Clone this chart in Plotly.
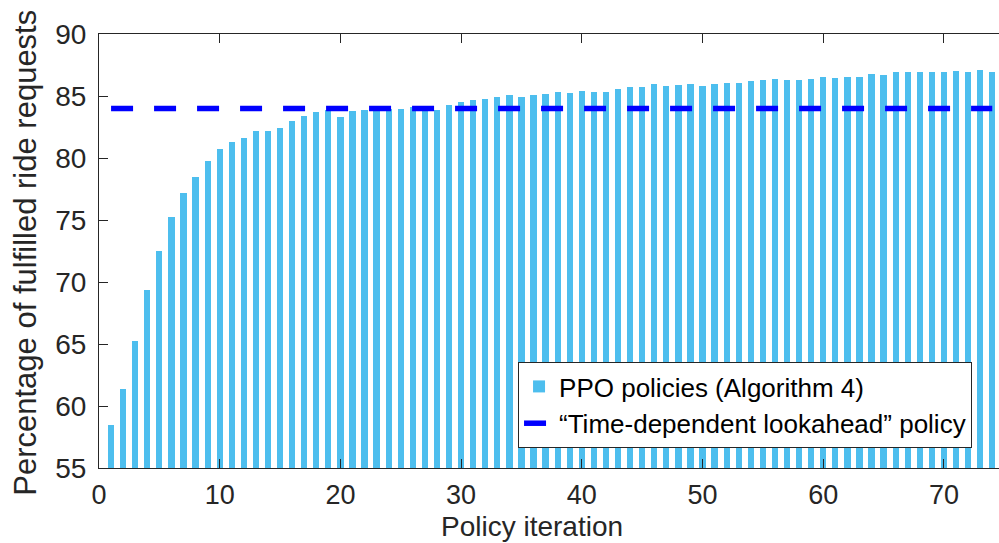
import plotly.graph_objects as go

iterations = list(range(1, 75))
ppo_values = [
    58.5, 61.4, 65.25, 69.35, 72.5, 75.25, 77.2, 78.5, 79.75, 80.7,
    81.3, 81.65, 82.15, 82.15, 82.45, 82.95, 83.4, 83.75, 83.9, 83.3,
    83.8, 83.9, 83.95, 83.95, 83.95, 84.1, 83.95, 83.9, 84.25, 84.55,
    84.7, 84.75, 84.9, 85.1, 84.95, 85.05, 85.2, 85.35, 85.25, 85.4,
    85.3, 85.35, 85.55, 85.7, 85.75, 85.95, 85.8, 85.9, 85.95, 85.8,
    86.0, 86.05, 86.05, 86.2, 86.3, 86.35, 86.3, 86.3, 86.4, 86.5,
    86.45, 86.55, 86.55, 86.75, 86.7, 86.9, 86.9, 86.9, 86.9, 86.9,
    87.0, 86.9, 87.1, 86.9,
]
lookahead_value = 84.0
lookahead_values = [lookahead_value] * len(iterations)

x_ticks = [0, 10, 20, 30, 40, 50, 60, 70]
y_ticks = [55, 60, 65, 70, 75, 80, 85, 90]
x_title = "Policy iteration"
y_title = "Percentage of fulfilled ride requests"

FONT = "Liberation Sans, Arial, Helvetica, sans-serif"
AX = "#262626"

fig = go.Figure()
fig.add_trace(go.Bar(
    x=iterations, y=ppo_values, width=0.52,
    marker=dict(color="#4DBEEE", line=dict(width=0)),
    name="PPO policies (Algorithm 4)",
))
fig.add_trace(go.Scatter(
    x=iterations, y=lookahead_values, mode="lines",
    line=dict(color="#0000FF", width=5.5, dash="22px,21px"),
    name="\u201cTime-dependent lookahead\u201d policy",
))

fig.update_layout(
    width=999, height=543,
    margin=dict(l=99, r=0, t=34, b=75),
    paper_bgcolor="white", plot_bgcolor="white",
    font=dict(family=FONT, color=AX),
    bargap=0,
    legend=dict(
        x=0.4656, y=0.2442, xanchor="left", yanchor="top",
        bgcolor="white", bordercolor=AX, borderwidth=1,
        font=dict(size=26, color="black", family=FONT),
        itemwidth=30, tracegroupgap=0,
    ),
    xaxis=dict(
        range=[0, 74.56], tickvals=x_ticks, ticktext=[str(v) for v in x_ticks],
        ticks="inside", ticklen=9, tickcolor=AX, tickwidth=1,
        showline=True, linecolor=AX, linewidth=1, mirror="ticks",
        showgrid=False, zeroline=False, automargin=False,
        tickfont=dict(size=27, color=AX),
        ticklabelstandoff=3,
    ),
    yaxis=dict(
        range=[55, 90], tickvals=y_ticks, ticktext=[str(v) for v in y_ticks],
        ticks="inside", ticklen=9, tickcolor=AX, tickwidth=1,
        showline=True, linecolor=AX, linewidth=1, mirror=False,
        showgrid=False, zeroline=False, automargin=False,
        tickfont=dict(size=28, color=AX),
        ticklabelstandoff=6,
    ),
    annotations=[
        dict(text=x_title, xref="paper", yref="paper", x=0.481, y=-0.1728,
             xanchor="center", yanchor="bottom", showarrow=False, borderpad=0,
             font=dict(size=28, color=AX, family=FONT)),
        dict(text=y_title, xref="paper", yref="paper", x=-0.082, y=0.4965,
             xanchor="center", yanchor="middle", showarrow=False, textangle=-90,
             font=dict(size=31, color=AX, family=FONT)),
    ],
)

fig.write_html("out.html")
